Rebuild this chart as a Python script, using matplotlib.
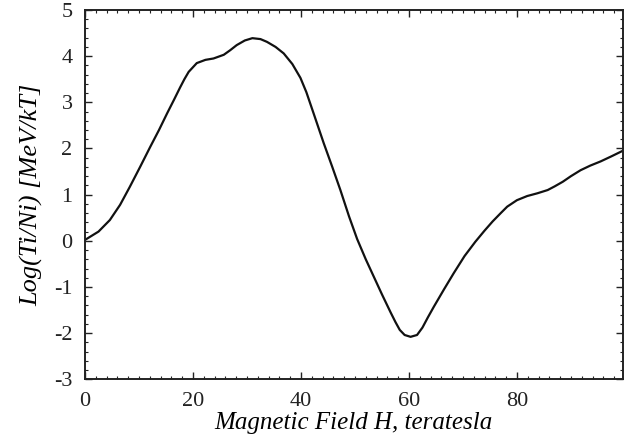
import matplotlib
matplotlib.use("Agg")
import matplotlib.pyplot as plt
from matplotlib.ticker import MultipleLocator

# values
field = [0, 2.5, 4.6, 6.5, 8.3, 10.2, 12.1, 13.7, 15.2, 16.5, 17.6, 18.4, 19.2, 20.7,
         22.3, 23.8, 25.7, 26.9, 28.1, 29.6, 31.0, 32.5, 33.7, 35.3, 36.8, 38.4,
         39.9, 41.0, 42.4, 44.2, 45.8, 47.3, 48.9, 50.4, 52.0, 53.5, 55.0, 56.6,
         57.5, 58.3, 59.2, 60.3, 61.5, 62.5, 63.5, 64.6, 66.5, 68.3, 70.3, 72.3,
         74.0, 75.5, 77.0, 78.2, 80.0, 81.9, 83.8, 85.7, 87.0, 88.5, 90.0, 91.8,
         93.6, 95.5, 97.5, 99.6]
log_ratio = [0.02, 0.2, 0.45, 0.78, 1.17, 1.6, 2.04, 2.4, 2.76, 3.06, 3.32, 3.5,
             3.66, 3.85, 3.92, 3.95, 4.03, 4.13, 4.24, 4.34, 4.39, 4.37, 4.31, 4.2,
             4.06, 3.83, 3.53, 3.22, 2.74, 2.12, 1.6, 1.1, 0.53, 0.04, -0.4, -0.78,
             -1.16, -1.55, -1.76, -1.93, -2.04, -2.08, -2.04, -1.88, -1.66, -1.43,
             -1.05, -0.7, -0.33, -0.02, 0.22, 0.42, 0.6, 0.74, 0.88, 0.97, 1.03, 1.1,
             1.18, 1.28, 1.4, 1.53, 1.63, 1.72, 1.83, 1.95]
x_ticks = [0, 20, 40, 60, 80]
y_ticks = [-3, -2, -1, 0, 1, 2, 3, 4, 5]

plt.rcParams["font.family"] = "Liberation Serif"
plt.rcParams["axes.unicode_minus"] = False

fig = plt.figure(figsize=(6.27, 4.43), dpi=100)
ax = fig.add_axes([0.1356, 0.1438, 0.8576, 0.8336])
ax.plot(field, log_ratio, color="#111111", linewidth=1.6,
        solid_joinstyle="round", solid_capstyle="round")

ax.set_xlim(0, 99.6)
ax.set_ylim(-3, 5)
ax.set_xticks(x_ticks)
ax.set_yticks(y_ticks)
ax.xaxis.set_minor_locator(MultipleLocator(2))
ax.yaxis.set_minor_locator(MultipleLocator(0.2))
ax.tick_params(which="both", direction="in", top=True, right=True, labelsize=16, colors="#222222")
ax.tick_params(which="major", length=5, width=1.0, pad=9)
ax.tick_params(which="minor", length=2.5, width=0.8)
for spine in ax.spines.values():
    spine.set_linewidth(1.4)
    spine.set_color("#222222")

ax.set_xlabel("Magnetic Field H, teratesla", fontsize=18, style="italic", labelpad=1)
ax.set_ylabel("Log(Ti/Ni) [MeV/kT]", fontsize=19, style="italic", labelpad=7.5)

fig.savefig("out.png", dpi=100)
